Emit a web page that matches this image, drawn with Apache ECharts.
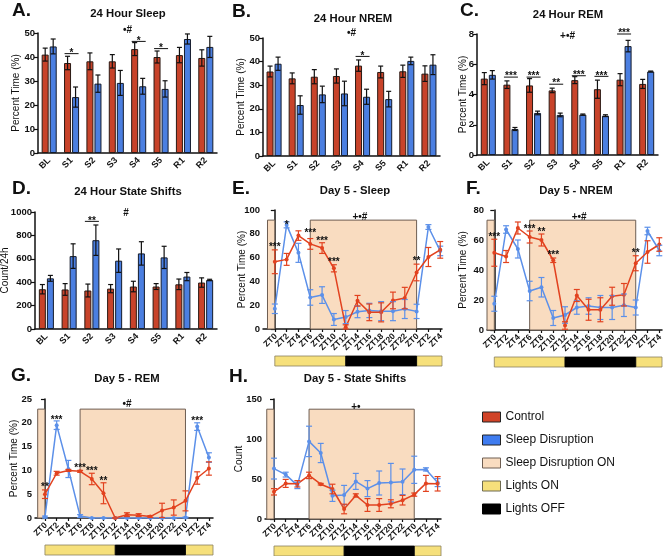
<!DOCTYPE html>
<html><head><meta charset="utf-8">
<script src="https://cdn.jsdelivr.net/npm/echarts@6/dist/echarts.min.js"></script>
<style>html,body{margin:0;padding:0;background:#fff}#c{width:667px;height:556px}</style>
</head><body><div id="c"></div>
<script>
// ---------- DATA ----------
const barCats = ['BL','S1','S2','S3','S4','S5','R1','R2'];
const ztLabels = ['ZT0','ZT2','ZT4','ZT6','ZT8','ZT10','ZT12','ZT14','ZT16','ZT18','ZT20','ZT22','ZT0','ZT2','ZT4'];

// A. 24 Hour Sleep (%)
const sleepCtrl    = [41.0, 37.5, 38.2, 38.2, 43.3, 40.0, 40.8, 39.6];
const sleepCtrlErr = [2.7, 2.8, 3.5, 2.8, 2.7, 2.5, 3.2, 3.4];
const sleepSD      = [44.4, 23.3, 28.9, 29.2, 27.8, 26.7, 47.5, 44.2];
const sleepSDErr   = [3.1, 4.2, 3.6, 5.2, 3.3, 3.4, 2.1, 4.4];
const sleepSig     = [['S1', 41.4, '*'], ['S4', 46.5, '*'], ['S5', 43.5, '*']];
const sleepEffect  = ['•#', 51.2];

// B. 24 Hour NREM (%)
const nremCtrl    = [35.8, 32.9, 33.6, 33.9, 38.3, 35.6, 35.9, 34.9];
const nremCtrlErr = [2.3, 2.3, 3.0, 3.0, 2.4, 2.5, 2.6, 3.3];
const nremSD      = [39.1, 21.6, 26.1, 26.5, 25.1, 24.1, 40.3, 38.7];
const nremSDErr   = [2.8, 3.9, 3.5, 5.2, 3.2, 3.3, 1.6, 4.2];
const nremSig     = [['S4', 42.2, '*']];
const nremEffect  = ['•#', 52.1];

// C. 24 Hour REM (%)
const remCtrl    = [5.05, 4.65, 4.6, 4.27, 4.95, 4.35, 4.98, 4.7];
const remCtrlErr = [0.4, 0.25, 0.45, 0.15, 0.23, 0.6, 0.4, 0.3];
const remSD      = [5.3, 1.72, 2.78, 2.65, 2.67, 2.6, 7.2, 5.52];
const remSDErr   = [0.28, 0.1, 0.12, 0.12, 0.04, 0.06, 0.38, 0.03];
const remSig     = [['S1', 5.15, '***'], ['S2', 5.15, '***'], ['S3', 4.68, '**'], ['S4', 5.24, '***'], ['S5', 5.2, '***'], ['R1', 8.0, '***']];
const remEffect  = ['+•#', 7.87];

// D. 24 Hour State Shifts (count/24h)
const shiftsCtrl    = [340, 338, 329, 345, 363, 363, 382, 397];
const shiftsCtrlErr = [40, 50, 55, 35, 45, 25, 45, 40];
const shiftsSD      = [433, 623, 759, 584, 646, 612, 448, 419];
const shiftsSDErr   = [25, 105, 130, 100, 100, 95, 35, 6];
const shiftsSig     = [['S2', 920, '**']];
const shiftsEffect  = ['#', 991];

// E. Day 5 - Sleep (%)
const d5SleepCtrl    = [56.5, 58.5, 78.5, 71.5, 68, 51, 1.5, 23.7, 14, 14, 24, 26, 47.5, 60.5, 66.5];
const d5SleepCtrlErr = [10, 5, 4, 4.5, 4.5, 3, 2, 4.5, 7, 8, 7, 9, 7, 8, 7];
const d5SleepSD      = [17, 87.5, 64, 26.5, 28.5, 8, 10, 14.5, 15.6, 15, 15, 16.8, 14.8, 85.7, 65.6];
const d5SleepSDErr   = [4, 2.5, 8, 6.5, 7, 5, 5.5, 5, 6, 8, 8, 8, 6, 2, 4];
const d5SleepSig     = [[0, 70, '***'], [1, 88.8, '*'], [3, 81.8, '***'], [4, 75.4, '***'], [5, 58, '***'], [12, 58.6, '**']];
const d5SleepEffect  = ['+•#', 7.2, 94];

// F. Day 5 - NREM (%)
const d5NremCtrl    = [51.5, 49, 68, 62, 60, 46.5, 3, 23, 13.5, 13.5, 22.5, 23.5, 44.5, 52, 57];
const d5NremCtrlErr = [9, 4, 4, 4, 4, 1.5, 2.5, 4, 7, 8, 6, 7.5, 5, 7.5, 4.5];
const d5NremSD      = [17.5, 67, 54, 26, 28.5, 8, 10, 15, 16, 15, 15, 16.5, 15, 66, 53];
const d5NremSDErr   = [5, 2.5, 6, 6.5, 6.5, 5, 5.5, 4.5, 5.5, 8, 8, 7.5, 5, 2.5, 3.5];
const d5NremSig     = [[0, 63.3, '***'], [3, 68.2, '***'], [4, 66.7, '**'], [5, 51, '***'], [12, 52.7, '**']];
const d5NremEffect  = ['+•#', 7.2, 75.3];

// G. Day 5 - REM (%)
const d5RemCtrl    = [5, 9.4, 10, 9.8, 8.2, 5.2, 0, 0.7, 0.6, 0.3, 1.6, 2.2, 3.6, 8.4, 10.4];
const d5RemCtrlErr = [0.9, 0.4, 0.2, 0.2, 1.2, 2.2, 0, 0.4, 0.3, 0.2, 1.5, 1.6, 2.1, 1.3, 1.4];
const d5RemSD      = [0.2, 19.5, 10.3, 0.4, 0, 0, 0, 0, 0, 0, 0, 0, 0.1, 19.2, 12.7];
const d5RemSDErr   = [0.2, 0.9, 1.8, 0.3, 0, 0, 0, 0, 0, 0, 0, 0, 0.1, 0.8, 1.0];
const d5RemSig     = [[0, 6.8, '**'], [1, 21, '***'], [3, 10.85, '***'], [4, 10.3, '***'], [5, 8.05, '**'], [13, 20.7, '***']];
const d5RemEffect  = ['•#', 7.0, 24];

// H. Day 5 - State Shifts (count)
const d5ShiftCtrl    = [34, 44.5, 44, 54.5, 43.5, 37.5, 12.5, 29.5, 17.5, 17.5, 19, 23.5, 30.5, 44.5, 44];
const d5ShiftCtrlErr = [4, 5, 4, 4, 1, 6, 6, 2, 8, 8, 5, 6, 2, 10, 9];
const d5ShiftSD      = [63, 55.5, 42, 97, 82.5, 29, 30, 47, 38, 45, 45.5, 46.5, 61.5, 62, 45.5];
const d5ShiftSDErr   = [13, 3, 4, 19, 12, 7, 12, 10, 10, 15, 24, 16, 17, 2, 5];
const d5ShiftSig     = [];
const d5ShiftEffect  = ['+•', 7.0, 140];

// Schedules (in ZT-bin index units)
const sdOnSpans     = [[-0.62, 0], [3, 12]];
const lightsOnSpans = [[0, 6], [12, 15]];
const lightsOffSpans = [[6, 12]];

// ---------- STYLE ----------
const FONT = '"Liberation Sans", Arial, Helvetica, sans-serif';
const RED = '#c8432a', BLUE = '#4b7fe1', LRED = '#e2421f', LBLUE = '#5c90e9';
const PEACH = '#f9dcc0', YEL = '#f6e07b';
const AX = {color: '#111', width: 1.5};
const BW = 7, BOFF = 4, RECT_FRAC = 0.915, LB_OFF = 27, LB_H = 10;

const grids = [], xAxes = [], yAxes = [], series = [];

function yAxisCfg(gi, max, interval, name, gap) {
  return {type: 'value', gridIndex: gi, min: 0, max, interval, name, nameLocation: 'middle', nameGap: gap,
    nameMoveOverlap: false,
    nameTextStyle: {fontSize: 10, color: '#111', fontFamily: FONT},
    axisLine: {show: true, lineStyle: AX}, axisTick: {show: true, length: 4, lineStyle: {color: '#111', width: 1.2}},
    axisLabel: {fontSize: 9.5, fontWeight: 'bold', color: '#111', margin: 3, fontFamily: FONT, formatter: v => String(v)},
    splitLine: {show: false}};
}

function errSeries(gi, data, dx, color, capHalf) {
  return {type: 'custom', xAxisIndex: gi, yAxisIndex: gi, z: 5, silent: true, clip: false,
    data,
    renderItem: (params, api) => {
      const x = api.value(0), m = api.value(1), e = api.value(2);
      const c = api.coord([x, m]);
      const t = api.coord([x, m + e]);
      const b = api.coord([x, Math.max(0, m - e)]);
      const cx = c[0] + dx;
      const st = {stroke: color, lineWidth: 1.2, fill: null};
      return {type: 'group', children: [
        {type: 'line', shape: {x1: cx, y1: t[1], x2: cx, y2: b[1]}, style: st},
        {type: 'line', shape: {x1: cx - capHalf, y1: t[1], x2: cx + capHalf, y2: t[1]}, style: st},
        {type: 'line', shape: {x1: cx - capHalf, y1: b[1], x2: cx + capHalf, y2: b[1]}, style: st}
      ]};
    }};
}

function textSeries(gi, items, opts) {
  return {type: 'custom', xAxisIndex: gi, yAxisIndex: gi, z: 10, silent: true, clip: false,
    data: items.map(it => [it[0], it[1]]),
    renderItem: (params, api) => {
      const it = items[params.dataIndex];
      const pt = api.coord([api.value(0), api.value(1)]);
      let x = pt[0];
      if (opts.center) x = params.coordSys.x + params.coordSys.width / 2;
      let y = pt[1];
      const star = it[2].indexOf('*') >= 0;
      const children = [];
      if (opts.line) {
        children.push({type: 'line', shape: {x1: x - 7, y1: y, x2: x + 7, y2: y}, style: {stroke: '#111', lineWidth: 1}});
        y = y - 0.5;
      } else if (star) {
        y = y + 2;
      }
      children.push({type: 'text', x: x, y: y, style: {text: it[2], align: 'center', verticalAlign: 'middle',
        fontSize: 10, fontWeight: 'bold', fontFamily: FONT, fill: '#111'}});
      return {type: 'group', children};
    }};
}

// rotated category labels for the ZT axis (drawn as text through the axis scale)
function ztLabelSeries(gi) {
  return {type: 'custom', xAxisIndex: gi, yAxisIndex: gi, z: 10, silent: true, clip: false,
    data: ztLabels.map((_, i) => [i, 0]),
    renderItem: (params, api) => {
      const p = api.coord([api.value(0), 0]);
      return {type: 'text', x: p[0] + 1, y: p[1] + 6, rotation: Math.PI / 4,
        style: {text: ztLabels[params.dataIndex], align: 'right', verticalAlign: 'middle',
          fontSize: 8.5, fontWeight: 'bold', fontFamily: FONT, fill: '#111'}};
    }};
}

function barPanel(rect, yMax, yInt, yName, gap, ctrl, ctrlE, sd, sdE, sig, effect) {
  const gi = grids.length;
  grids.push({left: rect[0], top: rect[1], width: rect[2], height: rect[3], containLabel: false, outerBoundsMode: 'none'});
  xAxes.push({type: 'category', gridIndex: gi, data: barCats,
    axisLine: {lineStyle: AX},
    axisTick: {alignWithLabel: true, length: 3, lineStyle: {color: '#111', width: 1.2}},
    axisLabel: {rotate: 45, interval: 0, fontSize: 9, fontWeight: 'bold', color: '#111', margin: 6, fontFamily: FONT}});
  yAxes.push(yAxisCfg(gi, yMax, yInt, yName, gap));
  const c = {xAxisIndex: gi, yAxisIndex: gi};
  series.push({...c, type: 'bar', name: 'Control', data: ctrl, barWidth: BW, barGap: '15%', silent: true,
    itemStyle: {color: RED, borderColor: '#2b1a14', borderWidth: 1}});
  series.push({...c, type: 'bar', name: 'Sleep Disruption', data: sd, barWidth: BW, barGap: '15%', silent: true,
    itemStyle: {color: BLUE, borderColor: '#141b2b', borderWidth: 1}});
  series.push(errSeries(gi, ctrl.map((v, i) => [i, v, ctrlE[i]]), -BOFF, '#111', 2.5));
  series.push(errSeries(gi, sd.map((v, i) => [i, v, sdE[i]]), BOFF, '#111', 2.5));
  series.push(textSeries(gi, sig.map(s => [barCats.indexOf(s[0]), s[1], s[2]]), {line: true}));
  series.push(textSeries(gi, [[0, effect[1], effect[0]]], {center: true}));
}

function linePanel(rect, xMin, xMax, yMax, yInt, yName, gap, ctrl, ctrlE, sd, sdE, sig, effect) {
  const gi = grids.length;
  grids.push({left: rect[0], top: rect[1], width: rect[2], height: rect[3], containLabel: false, outerBoundsMode: 'none'});
  const idx = ztLabels.map((_, i) => i);
  xAxes.push({type: 'value', gridIndex: gi, min: xMin, max: xMax,
    axisLine: {lineStyle: AX, onZero: false},
    axisTick: {customValues: idx, length: 3, lineStyle: {color: '#111', width: 1.2}},
    axisLabel: {show: false},
    splitLine: {show: false}});
  yAxes.push(yAxisCfg(gi, yMax, yInt, yName, gap));
  const c = {xAxisIndex: gi, yAxisIndex: gi};
  series.push({...c, type: 'custom', name: 'Sleep Disruption ON', z: 1, silent: true, clip: false,
    itemStyle: {color: PEACH},
    data: sdOnSpans.map(s => [s[0], 0, s[1]]),
    renderItem: (params, api) => {
      const a = api.coord([api.value(0), 0]);
      const b = api.coord([api.value(2), yMax * RECT_FRAC]);
      return {type: 'rect', shape: {x: a[0], y: b[1], width: b[0] - a[0], height: a[1] - b[1]},
        style: {fill: PEACH, stroke: '#6e5e52', lineWidth: 1}};
    }});
  const lights = (name, spans, fill, stroke) => ({...c, type: 'custom', name, z: 1, silent: true, clip: false,
    itemStyle: {color: fill},
    data: spans.map(s => [s[0], 0, s[1]]),
    renderItem: (params, api) => {
      const a = api.coord([api.value(0), 0]);
      const b = api.coord([Math.min(api.value(2), xMax), 0]);
      return {type: 'rect', shape: {x: a[0], y: a[1] + LB_OFF, width: b[0] - a[0], height: LB_H},
        style: {fill, stroke, lineWidth: 0.8}};
    }});
  series.push(lights('Lights ON', lightsOnSpans, YEL, '#8a8160'));
  series.push(lights('Lights OFF', lightsOffSpans, '#000', '#000'));
  series.push({...c, type: 'line', name: 'Sleep Disruption', data: sd.map((v, i) => [i, v]), z: 3, silent: true,
    symbol: 'circle', symbolSize: 4, lineStyle: {color: LBLUE, width: 1.5}, itemStyle: {color: LBLUE}});
  series.push({...c, type: 'line', name: 'Control', data: ctrl.map((v, i) => [i, v]), z: 4, silent: true,
    symbol: 'circle', symbolSize: 4, lineStyle: {color: LRED, width: 1.5}, itemStyle: {color: LRED}});
  series.push(errSeries(gi, sd.map((v, i) => [i, v, sdE[i]]), 0, LBLUE, 3));
  series.push(errSeries(gi, ctrl.map((v, i) => [i, v, ctrlE[i]]), 0, LRED, 3));
  series.push(textSeries(gi, sig, {}));
  series.push(textSeries(gi, [[effect[1], effect[2], effect[0]]], {}));
  series.push(ztLabelSeries(gi));
}

barPanel([38, 33, 179, 120], 50, 10, 'Percent Time (%)', 17, sleepCtrl, sleepCtrlErr, sleepSD, sleepSDErr, sleepSig, sleepEffect);
barPanel([263, 38, 177, 118], 50, 10, 'Percent Time (%)', 16.5, nremCtrl, nremCtrlErr, nremSD, nremSDErr, nremSig, nremEffect);
barPanel([477, 34, 181, 121], 8, 2, 'Percent Time (%)', 9, remCtrl, remCtrlErr, remSD, remSDErr, remSig, remEffect);
barPanel([35, 212, 182, 117], 1000, 200, 'Count/24h', 25, shiftsCtrl, shiftsCtrlErr, shiftsSD, shiftsSDErr, shiftsSig, shiftsEffect);
linePanel([263, 210, 179, 119], -1.0, 14.15, 100, 20, 'Percent Time (%)', 16, d5SleepCtrl, d5SleepCtrlErr, d5SleepSD, d5SleepSDErr, d5SleepSig, d5SleepEffect);
linePanel([487, 210, 175, 120], -0.62, 14.23, 80, 20, 'Percent Time (%)', 19, d5NremCtrl, d5NremCtrlErr, d5NremSD, d5NremSDErr, d5NremSig, d5NremEffect);
linePanel([35, 399, 178, 119], -0.85, 14.35, 25, 5, 'Percent Time (%)', 15.5, d5RemCtrl, d5RemCtrlErr, d5RemSD, d5RemSDErr, d5RemSig, d5RemEffect);
linePanel([265, 399, 176, 120], -0.77, 14.29, 150, 50, 'Count', 21, d5ShiftCtrl, d5ShiftCtrlErr, d5ShiftSD, d5ShiftSDErr, d5ShiftSig, d5ShiftEffect);

const titles = [
  ['24 Hour Sleep', 128, 14], ['24 Hour NREM', 353, 19], ['24 Hour REM', 568, 15], ['24 Hour State Shifts', 128, 192],
  ['Day 5 - Sleep', 355, 191], ['Day 5 - NREM', 576, 191], ['Day 5 - REM', 127, 379], ['Day 5 - State Shifts', 355, 379]
];
const letters = [['A.', 12, 11], ['B.', 232, 12], ['C.', 460, 11], ['D.', 12, 189], ['E.', 232, 189], ['F.', 466, 189], ['G.', 11, 376], ['H.', 229, 377]];
const graphic = [];
titles.forEach(t => graphic.push({type: 'text', x: t[1], y: t[2], silent: true,
  style: {text: t[0], align: 'center', verticalAlign: 'middle', fontSize: 11.3, fontWeight: 'bold', fontFamily: FONT, fill: '#111'}}));
letters.forEach(t => graphic.push({type: 'text', x: t[1], y: t[2], silent: true,
  style: {text: t[0], align: 'left', verticalAlign: 'middle', fontSize: 19, fontWeight: 'bold', fontFamily: FONT, fill: '#111'}}));

const chart = echarts.init(document.getElementById('c'));
chart.setOption({
  animation: false,
  backgroundColor: '#fff',
  textStyle: {fontFamily: FONT},
  grid: grids, xAxis: xAxes, yAxis: yAxes, series,
  graphic,
  legend: {orient: 'vertical', left: 477, top: 405, itemWidth: 18, itemHeight: 10, itemGap: 9, icon: 'rect',
    selectedMode: false,
    textStyle: {fontSize: 12, color: '#111', fontFamily: FONT, lineHeight: 14},
    itemStyle: {borderColor: '#222', borderWidth: 1},
    data: [
      {name: 'Control', itemStyle: {color: '#d04327'}},
      {name: 'Sleep Disruption', itemStyle: {color: '#3f7cf0'}},
      {name: 'Sleep Disruption ON', itemStyle: {color: PEACH, borderColor: '#6e5e52'}},
      {name: 'Lights ON', itemStyle: {color: YEL, borderColor: '#6e6a50'}},
      {name: 'Lights OFF', itemStyle: {color: '#000', borderColor: '#000'}}
    ]}
});
</script>
</body></html>
